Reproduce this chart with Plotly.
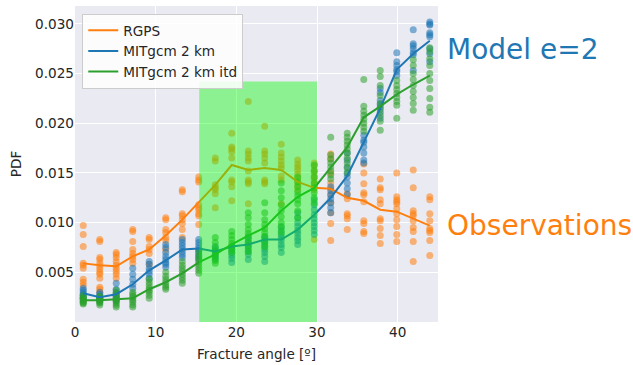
import plotly.graph_objects as go

# Bin centres (fracture angle, degrees)
angles = [1.02, 3.07, 5.11, 7.16, 9.20, 11.25, 13.30, 15.34, 17.39, 19.43, 21.48,
          23.52, 25.57, 27.61, 29.66, 31.70, 33.75, 35.80, 37.84, 39.89, 41.93, 43.98]

# Mean PDF curves
rgps_mean = [0.0059, 0.0057, 0.0056, 0.0066, 0.0073, 0.0087, 0.0103, 0.0120, 0.0138, 0.0158, 0.0153,
             0.0155, 0.0153, 0.0141, 0.0135, 0.0134, 0.0125, 0.0122, 0.0113, 0.0111, 0.0104, 0.0097]
mit_mean = [0.0029, 0.0025, 0.0028, 0.0038, 0.0052, 0.0062, 0.0073, 0.0074, 0.0071, 0.0076, 0.0078,
            0.0083, 0.0083, 0.0093, 0.0108, 0.0125, 0.0147, 0.0181, 0.0215, 0.0254, 0.0270, 0.0283]
itd_mean = [0.0022, 0.0022, 0.0023, 0.0024, 0.0033, 0.0040, 0.0049, 0.0060, 0.0068, 0.0078, 0.0087,
            0.0095, 0.0112, 0.0126, 0.0135, 0.0156, 0.0176, 0.0206, 0.0217, 0.0229, 0.0239, 0.0248]

# Individual samples per bin
rgps_pts = [
    [0.0097, 0.0088, 0.0076, 0.0059, 0.0057, 0.0054, 0.0043, 0.0040, 0.0037],
    [0.0083, 0.0081, 0.0065, 0.0063, 0.0059, 0.0056, 0.0053, 0.0050, 0.0048, 0.0044, 0.0035, 0.0033, 0.0030],
    [0.0070, 0.0068, 0.0065, 0.0061, 0.0057, 0.0054, 0.0051, 0.0048, 0.0044],
    [0.0093, 0.0091, 0.0081, 0.0073, 0.0069, 0.0066, 0.0063, 0.0059],
    [0.0085, 0.0083, 0.0076, 0.0073, 0.0069, 0.0058],
    [0.0105, 0.0103, 0.0093, 0.0090, 0.0085, 0.0082, 0.0073],
    [0.0133, 0.0131, 0.0109, 0.0107, 0.0103, 0.0099, 0.0093, 0.0085],
    [0.0146, 0.0143, 0.0141, 0.0118, 0.0115, 0.0113, 0.0109, 0.0107, 0.0098],
    [0.0165, 0.0162, 0.0138, 0.0135, 0.0133, 0.0129, 0.0115],
    [0.0190, 0.0176, 0.0174, 0.0171, 0.0165, 0.0143, 0.0141, 0.0136, 0.0122],
    [0.0222, 0.0172, 0.0169, 0.0165, 0.0162, 0.0152, 0.0143, 0.0141, 0.0139, 0.0119],
    [0.0197, 0.0172, 0.0169, 0.0165, 0.0160, 0.0143, 0.0141, 0.0139],
    [0.0179, 0.0170, 0.0166, 0.0162, 0.0158, 0.0155, 0.0147, 0.0143, 0.0119],
    [0.0163, 0.0159, 0.0156, 0.0153, 0.0149, 0.0145, 0.0141, 0.0137, 0.0133],
    [0.0160, 0.0157, 0.0153, 0.0150, 0.0146, 0.0143, 0.0139, 0.0136, 0.0133, 0.0083],
    [0.0169, 0.0164, 0.0150, 0.0140, 0.0134, 0.0128, 0.0120, 0.0110, 0.0099, 0.0082],
    [0.0129, 0.0124, 0.0109, 0.0107, 0.0104, 0.0093],
    [0.0159, 0.0150, 0.0139, 0.0130, 0.0128, 0.0121, 0.0102, 0.0099, 0.0091, 0.0089],
    [0.0144, 0.0135, 0.0133, 0.0123, 0.0119, 0.0104, 0.0102, 0.0094, 0.0087, 0.0079],
    [0.0150, 0.0126, 0.0123, 0.0121, 0.0119, 0.0114, 0.0109, 0.0103, 0.0096, 0.0088, 0.0081],
    [0.0153, 0.0135, 0.0112, 0.0109, 0.0107, 0.0102, 0.0095, 0.0091, 0.0081, 0.0061],
    [0.0126, 0.0123, 0.0109, 0.0102, 0.0094, 0.0092, 0.0090, 0.0082, 0.0067],
]
mit_pts = [
    [0.0034, 0.0032, 0.0030, 0.0028, 0.0027, 0.0025, 0.0024],
    [0.0030, 0.0028, 0.0026, 0.0025, 0.0024, 0.0023, 0.0022],
    [0.0039, 0.0033, 0.0030, 0.0028, 0.0026, 0.0024, 0.0022],
    [0.0054, 0.0048, 0.0043, 0.0038, 0.0034],
    [0.0061, 0.0058, 0.0054, 0.0051, 0.0048, 0.0044],
    [0.0078, 0.0075, 0.0070, 0.0066, 0.0063, 0.0060, 0.0058, 0.0055],
    [0.0083, 0.0080, 0.0077, 0.0074, 0.0071, 0.0068, 0.0065],
    [0.0083, 0.0080, 0.0077, 0.0074, 0.0072, 0.0069, 0.0066, 0.0063],
    [0.0076, 0.0073, 0.0071, 0.0068, 0.0066, 0.0063],
    [0.0076, 0.0073, 0.0070, 0.0067, 0.0064, 0.0060],
    [0.0086, 0.0083, 0.0080, 0.0077, 0.0074, 0.0071, 0.0068, 0.0063],
    [0.0086, 0.0084, 0.0081, 0.0079, 0.0076, 0.0073, 0.0070, 0.0066, 0.0061],
    [0.0096, 0.0092, 0.0088, 0.0085, 0.0082, 0.0078, 0.0075, 0.0070],
    [0.0110, 0.0105, 0.0100, 0.0096, 0.0092, 0.0089, 0.0085, 0.0082, 0.0078],
    [0.0123, 0.0118, 0.0113, 0.0108, 0.0104, 0.0100, 0.0096, 0.0092, 0.0088],
    [0.0136, 0.0132, 0.0128, 0.0124, 0.0120, 0.0115, 0.0110],
    [0.0170, 0.0163, 0.0156, 0.0150, 0.0146, 0.0140, 0.0134, 0.0128],
    [0.0188, 0.0183, 0.0181, 0.0176, 0.0170, 0.0163, 0.0160],
    [0.0235, 0.0231, 0.0223, 0.0219, 0.0216, 0.0211, 0.0205],
    [0.0271, 0.0262, 0.0258, 0.0254, 0.0252, 0.0248],
    [0.0294, 0.0280, 0.0278, 0.0275, 0.0271, 0.0269, 0.0253],
    [0.0302, 0.0300, 0.0299, 0.0291, 0.0289, 0.0287, 0.0275, 0.0270, 0.0262],
]
itd_pts = [
    [0.0027, 0.0025, 0.0024, 0.0023, 0.0022, 0.0021, 0.0020, 0.0019, 0.0018],
    [0.0026, 0.0025, 0.0024, 0.0023, 0.0022, 0.0021, 0.0020, 0.0019, 0.0017],
    [0.0032, 0.0029, 0.0026, 0.0024, 0.0022, 0.0021, 0.0019, 0.0017, 0.0015],
    [0.0030, 0.0028, 0.0026, 0.0024, 0.0022, 0.0020, 0.0017, 0.0015],
    [0.0043, 0.0040, 0.0037, 0.0034, 0.0032, 0.0030, 0.0027, 0.0024],
    [0.0050, 0.0046, 0.0043, 0.0040, 0.0037, 0.0035, 0.0033],
    [0.0061, 0.0057, 0.0054, 0.0051, 0.0048, 0.0045, 0.0042, 0.0039],
    [0.0071, 0.0067, 0.0064, 0.0061, 0.0058, 0.0055, 0.0052, 0.0049],
    [0.0085, 0.0080, 0.0075, 0.0071, 0.0068, 0.0065, 0.0062, 0.0059],
    [0.0091, 0.0087, 0.0083, 0.0079, 0.0076, 0.0073, 0.0070],
    [0.0110, 0.0105, 0.0098, 0.0093, 0.0089, 0.0085, 0.0080, 0.0076, 0.0071],
    [0.0120, 0.0110, 0.0103, 0.0098, 0.0094, 0.0090, 0.0086, 0.0081, 0.0076],
    [0.0140, 0.0132, 0.0125, 0.0118, 0.0112, 0.0106, 0.0100, 0.0095, 0.0090],
    [0.0146, 0.0141, 0.0136, 0.0131, 0.0127, 0.0123, 0.0119, 0.0112, 0.0105],
    [0.0158, 0.0152, 0.0146, 0.0140, 0.0135, 0.0130, 0.0125, 0.0120],
    [0.0186, 0.0168, 0.0164, 0.0160, 0.0156, 0.0152, 0.0148, 0.0144],
    [0.0190, 0.0186, 0.0182, 0.0178, 0.0174, 0.0170, 0.0165, 0.0160, 0.0155, 0.0150],
    [0.0244, 0.0217, 0.0212, 0.0208, 0.0204, 0.0200, 0.0196, 0.0192],
    [0.0253, 0.0247, 0.0238, 0.0228, 0.0220, 0.0214, 0.0208, 0.0202, 0.0193],
    [0.0243, 0.0238, 0.0234, 0.0230, 0.0226, 0.0222, 0.0218, 0.0205],
    [0.0264, 0.0258, 0.0250, 0.0244, 0.0238, 0.0232, 0.0226, 0.0220, 0.0213],
    [0.0276, 0.0272, 0.0265, 0.0258, 0.0250, 0.0243, 0.0235, 0.0225, 0.0216, 0.0211],
]

series_names = ["RGPS", "MITgcm 2 km", "MITgcm 2 km itd"]
colors = ["#ff7f0e", "#1f77b4", "#2ca02c"]

# Highlighted fracture-angle window
span_x = [15.4, 30.0]
span_y = [0.0, 0.0242]

x_ticks = [0, 10, 20, 30, 40]
y_ticks = [0.005, 0.010, 0.015, 0.020, 0.025, 0.030]
y_tick_text = ["0.005", "0.010", "0.015", "0.020", "0.025", "0.030"]

FONT = "DejaVu Sans"
FS = 13.6

fig = go.Figure()

for pts, col in zip([rgps_pts, mit_pts, itd_pts], colors):
    xs, ys = [], []
    for a, p in zip(angles, pts):
        xs += [a] * len(p)
        ys += p
    fig.add_trace(go.Scatter(x=xs, y=ys, mode="markers", showlegend=False,
                             marker=dict(color=col, size=7, opacity=0.55, line=dict(width=0)),
                             hoverinfo="skip"))

for mean, name, col in zip([rgps_mean, mit_mean, itd_mean], series_names, colors):
    fig.add_trace(go.Scatter(x=angles, y=mean, mode="lines", name=name,
                             line=dict(color=col, width=2)))

fig.add_shape(type="rect", xref="x", yref="y", x0=span_x[0], x1=span_x[1],
              y0=span_y[0], y1=span_y[1], fillcolor="rgba(0,255,0,0.4)",
              line=dict(width=0), layer="above")

fig.add_annotation(text="Model e=2", xref="paper", yref="y", x=1.02, y=0.0274,
                   xanchor="left", yanchor="middle", showarrow=False,
                   font=dict(family=FONT, size=28, color="#1f77b4"))
fig.add_annotation(text="Observations", xref="paper", yref="y", x=1.02, y=0.0097,
                   xanchor="left", yanchor="middle", showarrow=False,
                   font=dict(family=FONT, size=28, color="#ff7f0e"))

fig.update_layout(
    width=633, height=365,
    margin=dict(l=75, r=195, t=6, b=43),
    paper_bgcolor="white", plot_bgcolor="#EAEAF2",
    font=dict(family=FONT, size=FS, color="#262626"),
    legend=dict(x=0.02, y=0.975, xanchor="left", yanchor="top",
                bgcolor="rgba(255,255,255,0.85)", bordercolor="#cccccc", borderwidth=1,
                font=dict(size=FS, color="#262626"), tracegroupgap=0),
    xaxis=dict(range=[0, 45], tickvals=x_ticks, showgrid=True, gridcolor="white",
               gridwidth=1.2, zeroline=False, showline=False, ticks="",
               title=dict(text="Fracture angle [º]", font=dict(size=FS), standoff=10),
               tickfont=dict(size=FS)),
    yaxis=dict(range=[0.0, 0.0318], tickvals=y_ticks, ticktext=y_tick_text, showgrid=True,
               gridcolor="white", gridwidth=1.2, zeroline=False, showline=False, ticks="",
               title=dict(text="PDF", font=dict(size=FS), standoff=10),
               tickfont=dict(size=FS)),
)

fig.write_html("out.html")
